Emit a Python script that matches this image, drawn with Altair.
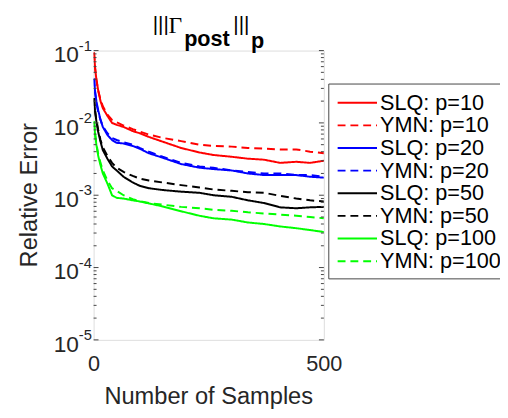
import altair as alt
import pandas as pd

samples = [1, 3, 6, 10, 15, 20, 30, 40, 50, 65, 85, 100, 120, 150, 190, 230, 260, 300, 335, 370, 405, 440, 470, 500]

slq_10 = [0.094, 0.060, 0.040, 0.028, 0.020, 0.016, 0.0125, 0.0100, 0.0094, 0.0088, 0.0077, 0.0072, 0.0064, 0.0055,
          0.0045, 0.0039, 0.0036, 0.0034, 0.0032, 0.0031, 0.0028, 0.0029, 0.0028, 0.0030]
ymn_10 = [0.094, 0.058, 0.040, 0.028, 0.021, 0.017, 0.013, 0.0110, 0.0102, 0.0092, 0.0082, 0.0076, 0.0069, 0.0062,
          0.0056, 0.0050, 0.0048, 0.0047, 0.0045, 0.0044, 0.0043, 0.0043, 0.0040, 0.0038]
slq_20 = [0.041, 0.028, 0.020, 0.015, 0.011, 0.0088, 0.0068, 0.0058, 0.0053, 0.0052, 0.0048, 0.0044, 0.0038, 0.0033,
          0.0027, 0.0024, 0.0023, 0.0022, 0.0020, 0.0019, 0.0019, 0.0019, 0.0018, 0.00175]
ymn_20 = [0.041, 0.027, 0.019, 0.014, 0.011, 0.0090, 0.0072, 0.0062, 0.0058, 0.0054, 0.0050, 0.0045, 0.0040, 0.0034,
          0.0028, 0.0025, 0.0024, 0.0022, 0.0021, 0.0020, 0.0020, 0.0019, 0.0019, 0.0018]
slq_50 = [0.022, 0.015, 0.0105, 0.0075, 0.0055, 0.0042, 0.0032, 0.0025, 0.0022, 0.0018, 0.00150, 0.00135, 0.00125,
          0.00118, 0.00112, 0.00108, 0.00100, 0.00095, 0.00085, 0.00078, 0.00068, 0.00066, 0.00068, 0.00069]
ymn_50 = [0.022, 0.015, 0.011, 0.0080, 0.0058, 0.0046, 0.0035, 0.0028, 0.0024, 0.0021, 0.00185, 0.00170, 0.00160,
          0.00150, 0.00138, 0.00128, 0.00120, 0.00115, 0.00110, 0.00108, 0.00098, 0.00090, 0.00085, 0.00082]
slq_100 = [0.0105, 0.0072, 0.0050, 0.0035, 0.0026, 0.0020, 0.00145, 0.00100, 0.00092, 0.00090, 0.00085, 0.00082,
           0.00077, 0.00070, 0.00060, 0.00052, 0.00048, 0.00046, 0.00042, 0.00040, 0.00037, 0.00035, 0.00033, 0.00031]
ymn_100 = [0.0105, 0.0072, 0.0052, 0.0037, 0.0028, 0.0022, 0.0016, 0.00125, 0.00115, 0.00100, 0.00088, 0.00083,
           0.00078, 0.00074, 0.00069, 0.00066, 0.00063, 0.00061, 0.00058, 0.00056, 0.00054, 0.00052, 0.00050, 0.00048]

series_names = ["SLQ: p=10", "YMN: p=10", "SLQ: p=20", "YMN: p=20",
                "SLQ: p=50", "YMN: p=50", "SLQ: p=100", "YMN: p=100"]
series_values = [slq_10, ymn_10, slq_20, ymn_20, slq_50, ymn_50, slq_100, ymn_100]
series_colors = ["#ff0000", "#ff0000", "#0000ff", "#0000ff", "#000000", "#000000", "#00ff00", "#00ff00"]
series_dash = [[1, 0], [8, 5], [1, 0], [8, 5], [1, 0], [8, 5], [1, 0], [8, 5]]

y_exponents = [-1, -2, -3, -4, -5]
x_ticks = [0, 500]

FONT = "Liberation Sans"
W, H = 234, 294

rows = []
for name, vals in zip(series_names, series_values):
    for s, v in zip(samples, vals):
        rows.append({"series": name, "samples": s, "err": v})
df = pd.DataFrame(rows)

yscale = alt.Scale(type="log", domain=[1e-5, 1e-1], nice=False)
xscale = alt.Scale(domain=[0, 500], nice=False)
cscale = alt.Scale(domain=series_names, range=series_colors)
dscale = alt.Scale(domain=series_names, range=series_dash)

lines = alt.Chart(df).mark_line(strokeWidth=2, clip=True).encode(
    x=alt.X("samples:Q", scale=xscale,
            axis=alt.Axis(values=x_ticks, labelFontSize=22, labelFont=FONT, labelColor="#262626",
                          ticks=False, domain=False, grid=False, labelFlush=False, labelPadding=14,
                          title=None, format="d")),
    y=alt.Y("err:Q", scale=yscale, axis=None),
    color=alt.Color("series:N", scale=cscale, legend=None),
    strokeDash=alt.StrokeDash("series:N", scale=dscale, legend=None),
)

# y tick labels 10^k
tdf = pd.DataFrame({"v": [10.0 ** e for e in y_exponents], "exp": [str(e) for e in y_exponents]})
base_lbl = alt.Chart(tdf).mark_text(align="right", baseline="middle", fontSize=23, font=FONT,
                                    color="#262626", dy=5).encode(
    x=alt.value(-15), y=alt.Y("v:Q", scale=yscale, axis=None), text=alt.value("10"))
exp_lbl = alt.Chart(tdf).mark_text(align="left", baseline="middle", fontSize=15, font=FONT,
                                   color="#262626", dy=-5).encode(
    x=alt.value(-15), y=alt.Y("v:Q", scale=yscale, axis=None), text="exp:N")

# inside ticks (major + minor)
minor_vals = [m * 10.0 ** e for e in y_exponents[1:] for m in range(2, 10)]
mdf = pd.DataFrame({"v": minor_vals})
major_l = alt.Chart(tdf).mark_rule(color="#444", strokeWidth=1).encode(
    x=alt.value(0), x2=alt.value(5), y=alt.Y("v:Q", scale=yscale, axis=None))
minor_l = alt.Chart(mdf).mark_rule(color="#444", strokeWidth=1).encode(
    x=alt.value(0), x2=alt.value(3), y=alt.Y("v:Q", scale=yscale, axis=None))
major_r = alt.Chart(tdf).mark_rule(color="#444", strokeWidth=1).encode(
    x=alt.value(W - 5), x2=alt.value(W), y=alt.Y("v:Q", scale=yscale, axis=None))
minor_r = alt.Chart(mdf).mark_rule(color="#444", strokeWidth=1).encode(
    x=alt.value(W - 3), x2=alt.value(W), y=alt.Y("v:Q", scale=yscale, axis=None))

# axis titles
ytitle = alt.Chart(pd.DataFrame({"t": ["Relative Error"]})).mark_text(
    angle=270, align="center", baseline="middle", fontSize=24, font=FONT, color="#262626").encode(
    x=alt.value(-65), y=alt.value(147), text="t:N")
xtitle = alt.Chart(pd.DataFrame({"t": ["Number of Samples"]})).mark_text(
    align="center", baseline="middle", fontSize=24, font=FONT, color="#262626").encode(
    x=alt.value(W / 2), y=alt.value(352), text="t:N")

# title pieces: |||Γ_post|||_p
def piece(txt, x, y, size, font=FONT, weight="bold"):
    return alt.Chart(pd.DataFrame({"t": [txt]})).mark_text(
        align="left", baseline="alphabetic", fontSize=size, font=font, fontWeight=weight,
        color="#000000").encode(x=alt.value(x), y=alt.value(y), text="t:N")

title_layers = [
    piece("|||", 60, -20, 21, weight="normal"),
    piece("Γ", 76, -18, 24, font="Liberation Serif", weight="normal"),
    piece("post", 92, -5, 22),
    piece("|||", 142, -20, 21, weight="normal"),
    piece("p", 160, -3, 22),
]

# legend
ldf = pd.DataFrame({"series": series_names})
lyscale = alt.Scale(type="point", domain=series_names, range=[53, 214], padding=0)
lbox = alt.Chart(pd.DataFrame({"a": [0]})).mark_rect(fill="white", stroke="#444", strokeWidth=1).encode(
    x=alt.value(239), x2=alt.value(450), y=alt.value(34), y2=alt.value(232))
lsym = alt.Chart(ldf).mark_rule(strokeWidth=2).encode(
    x=alt.value(248), x2=alt.value(288),
    y=alt.Y("series:N", scale=lyscale, axis=None),
    color=alt.Color("series:N", scale=cscale, legend=None),
    strokeDash=alt.StrokeDash("series:N", scale=dscale, legend=None))
ltxt = alt.Chart(ldf).mark_text(align="left", baseline="middle", fontSize=22, font=FONT,
                                color="#000000").encode(
    x=alt.value(291), y=alt.Y("series:N", scale=lyscale, axis=None), text="series:N")

chart = alt.layer(
    lines, major_l, minor_l, major_r, minor_r, base_lbl, exp_lbl, ytitle, xtitle,
    *title_layers, lbox, lsym, ltxt
).resolve_scale(y="independent").properties(
    width=W, height=H,
    autosize=alt.AutoSizeParams(type="none"),
    padding={"left": 87, "top": 40, "right": 179, "bottom": 68},
).configure_view(stroke="#444", strokeWidth=1).configure(background="white")

chart.save("out.html", embed_options={"renderer": "svg", "actions": False})
